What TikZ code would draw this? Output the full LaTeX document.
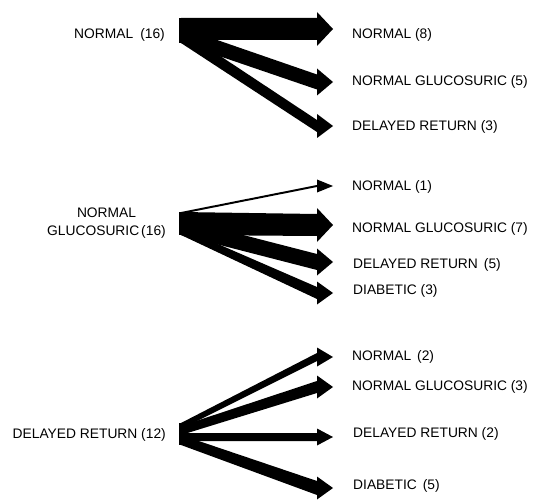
\documentclass[tikz,border=0pt]{standalone}
\usepackage{fontspec}
\setmainfont{Liberation Sans}
\usetikzlibrary{calc}
\newcommand\flowpoly[6]{% #1 source bar, #2/#3 start offsets below its top, #4 tip, #5 shaft half width, #6 head half width
  \fill ($(#1.north)+(0,#2)$) -- ($(#4)+(-16,-#5)$) -- ($(#4)+(-16,-#6)$) -- (#4)
        -- ($(#4)+(-16,#6)$) -- ($(#4)+(-16,#5)$) -- ($(#1.north)+(0,#3)$) -- cycle;}
\begin{document}
\begin{tikzpicture}[x=1pt,y=-1pt,
  srcbar/.style={fill=black,inner sep=0pt,outer sep=0pt,minimum width=4pt},
  lbl/.style={inner sep=0pt,font=\fontsize{13.8}{18}\selectfont},
  tlbl/.style={lbl,anchor=west},
  slbl/.style={lbl,anchor=east,align=center}]
\useasboundingbox (0,0) rectangle (533,500);
% ---------- block 1
\node[srcbar,minimum height=25pt] (s1) at (181,30.5) {};
\node[slbl] (l1) at (165,35) {NORMAL\hspace{7pt}(16)};
\coordinate (t1a) at (333,29);
\coordinate (t1b) at (333,82);
\coordinate (t1c) at (333,126);
\flowpoly{s1}{0}{22}{t1a}{11}{17}
\flowpoly{s1}{9.5}{25}{t1b}{7.5}{13.5}
\flowpoly{s1}{12}{25}{t1c}{6}{12}
\node[tlbl] (r1a) at (352,35) {NORMAL (8)};
\node[tlbl] (r1b) at (352,82) {NORMAL GLUCOSURIC (5)};
\node[tlbl] (r1c) at (352,127) {DELAYED RETURN (3)};
% ---------- block 2
\node[srcbar,minimum height=23pt] (s2) at (181,223.5) {};
\node[slbl] (l2) at (166,223) {NORMAL\\GLUCOSURIC\hspace{2pt}(16)};
\coordinate (t2a) at (333,186);
\coordinate (t2b) at (333,225);
\coordinate (t2c) at (333,262);
\coordinate (t2d) at (333,293);
\flowpoly{s2}{0}{2}{t2a}{1}{6.5}
\flowpoly{s2}{0}{23}{t2b}{11}{17}
\flowpoly{s2}{7}{23}{t2c}{8}{13.5}
\flowpoly{s2}{16}{23}{t2d}{6}{11.5}
\node[tlbl] (r2a) at (352,187) {NORMAL (1)};
\node[tlbl] (r2b) at (352,229) {NORMAL GLUCOSURIC (7)};
\node[tlbl] (r2c) at (353,265) {DELAYED RETURN\hspace{6pt}(5)};
\node[tlbl] (r2d) at (353,291) {DIABETIC (3)};
% ---------- block 3
\node[srcbar,minimum height=22pt] (s3) at (181,434) {};
\node[slbl] (l3) at (166,435) {DELAYED RETURN (12)};
\coordinate (t3a) at (333,357);
\coordinate (t3b) at (333,387);
\coordinate (t3c) at (333,437);
\coordinate (t3d) at (333,488);
\flowpoly{s3}{0}{6}{t3a}{4}{9.5}
\flowpoly{s3}{3}{12}{t3b}{6}{11.5}
\flowpoly{s3}{10}{18}{t3c}{4}{8.5}
\flowpoly{s3}{12}{22}{t3d}{7}{11.5}
\node[tlbl] (r3a) at (352,357) {NORMAL\hspace{6pt}(2)};
\node[tlbl] (r3b) at (352,387) {NORMAL GLUCOSURIC (3)};
\node[tlbl] (r3c) at (353,434) {DELAYED RETURN (2)};
\node[tlbl] (r3d) at (353,486) {DIABETIC\hspace{6pt}(5)};
\end{tikzpicture}
\end{document}
